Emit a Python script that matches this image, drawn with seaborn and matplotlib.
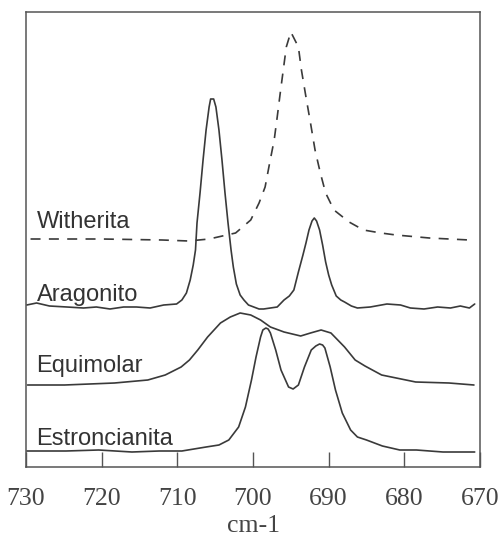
import numpy as np
import pandas as pd
import matplotlib
matplotlib.use("Agg")
import matplotlib.pyplot as plt
import seaborn as sns

# ---- data (x in cm-1, y in arbitrary offset units) ----
witherita_x = [729.4, 720.0, 712.0, 708.5, 705.8, 702.3, 700.3, 699.2, 698.4, 697.8,
               697.2, 696.8, 696.4, 696.0, 695.6, 695.0, 694.0, 693.6, 693.0, 692.4,
               691.8, 691.1, 690.4, 689.3, 687.3, 685.4, 683.1, 681.1, 676.7, 671.4]
witherita_y = [228, 228, 227, 226, 228, 234, 247, 264, 280, 304,
               327, 350, 374, 397, 420, 435, 420, 397, 370, 344,
               317, 294, 274, 257, 245, 237, 234, 232, 229, 227]

aragonito_x = [729.9, 728.6, 726.9, 724.6, 722.4, 720.7, 718.9, 717.1, 715.4, 713.6,
               711.8, 710.1, 709.4, 708.8, 708.3, 707.9, 707.6, 707.4, 707.0, 706.6,
               706.2, 705.8, 705.6, 705.2, 704.9, 704.5, 704.1, 703.7, 703.3, 702.9,
               702.6, 702.2, 701.7, 701.2, 700.6, 699.9, 699.2, 698.6, 697.7, 696.8,
               695.9, 695.2, 694.6, 694.0, 693.4, 693.0, 692.6, 692.2, 691.9, 691.6,
               691.2, 690.8, 690.4, 690.0, 689.6, 689.0, 688.4, 687.9, 687.0, 686.2,
               684.5, 682.3, 680.5, 679.2, 677.4, 675.6, 673.9, 672.6, 671.4, 670.7]
aragonito_y = [162, 164, 161, 160, 159, 160, 158, 160, 160, 159,
               162, 163, 167, 174, 187, 202, 217, 244, 274, 307,
               337, 360, 368, 368, 360, 337, 307, 274, 244, 217,
               200, 183, 172, 167, 162, 160, 158, 158, 159, 160,
               167, 171, 177, 195, 212, 224, 237, 246, 249, 246,
               237, 222, 205, 192, 182, 171, 167, 165, 161, 159,
               160, 163, 162, 159, 158, 160, 159, 161, 159, 163]

equimolar_x = [729.8, 724.9, 718.3, 713.9, 711.6, 709.5, 708.4, 707.3, 706.0, 704.3,
               703.0, 701.7, 700.3, 699.0, 697.7, 695.9, 693.7, 692.4, 691.0, 689.7,
               687.9, 686.5, 685.2, 683.0, 678.5, 674.1, 670.8]
equimolar_y = [82, 82, 84, 87, 92, 100, 107, 117, 130, 144,
               150, 154, 152, 147, 140, 135, 131, 134, 137, 134,
               120, 107, 101, 92, 85, 84, 82]

estroncianita_x = [729.9, 724.7, 720.4, 716.0, 712.4, 709.4, 706.2, 704.5, 703.2, 701.9,
                   701.0, 700.2, 699.6, 699.0, 698.7, 698.3, 698.0, 697.7, 697.0, 696.3,
                   695.3, 694.7, 694.0, 693.2, 692.3, 691.7, 691.2, 690.8, 690.5, 689.8,
                   689.1, 688.2, 687.1, 686.2, 685.0, 682.9, 680.6, 678.4, 674.9, 670.7]
estroncianita_y = [16, 16, 17, 15, 16, 16, 20, 22, 27, 40,
                   60, 87, 110, 130, 137, 139, 138, 134, 117, 97,
                   80, 78, 82, 100, 117, 121, 123, 122, 119, 100,
                   77, 54, 37, 30, 27, 21, 17, 17, 15, 15]

labels = ["Witherita", "Aragonito", "Equimolar", "Estroncianita"]
label_y = [239, 166, 95, 22]
xticks = [730, 720, 710, 700, 690, 680, 670]
xlabel = "cm-1"

# ---- figure ----
sns.set_theme(style="white")
plt.rcParams["font.family"] = ["Liberation Sans", "DejaVu Sans"]

fig = plt.figure(figsize=(5.01, 5.42), dpi=100)
ax = fig.add_axes([26 / 501, 1 - 467 / 542, (480 - 26) / 501, (467 - 12) / 542])

line_col = "#3a3a3a"
series = [
    (witherita_x, witherita_y, (0, (6, 5))),
    (aragonito_x, aragonito_y, "-"),
    (equimolar_x, equimolar_y, "-"),
    (estroncianita_x, estroncianita_y, "-"),
]
for xs, ys, ls in series:
    df = pd.DataFrame({"x": xs, "y": ys})
    sns.lineplot(data=df, x="x", y="y", ax=ax, sort=False, estimator=None,
                 color=line_col, linewidth=1.2, linestyle=ls)

for lab, ly in zip(labels, label_y):
    ax.text(728.6, ly, lab, fontsize=17, color="#333333",
            family=["Liberation Sans", "DejaVu Sans"], va="baseline", ha="left")

ax.set_xlim(730, 670)
ax.set_ylim(0, 455)
ax.set_xticks(xticks)
ax.set_xticklabels([str(t) for t in xticks], family=["Liberation Serif", "DejaVu Serif"],
                   fontsize=18.5, color="#444444")
ax.set_yticks([])
ax.set_ylabel("")
ax.set_xlabel(xlabel, family=["Liberation Serif", "DejaVu Serif"], fontsize=18.5,
              color="#444444", labelpad=4)
ax.tick_params(axis="x", direction="in", length=11, width=1.0, color="#555555",
               pad=15, bottom=True, top=False)
for sp in ax.spines.values():
    sp.set_visible(True)
    sp.set_color("#555555")
    sp.set_linewidth(1.1)

fig.savefig("out.png", dpi=100)
